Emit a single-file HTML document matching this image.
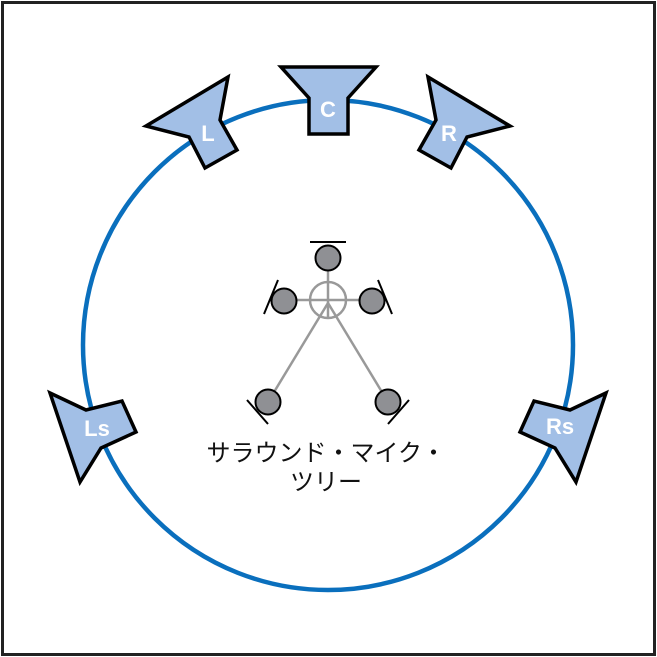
<!DOCTYPE html>
<html><head><meta charset="utf-8"><style>
html,body{margin:0;padding:0;background:#fff}
svg{display:block}
</style></head><body>
<svg width="657" height="657" viewBox="0 0 657 657" xmlns="http://www.w3.org/2000/svg">
<rect x="2.5" y="2.5" width="652" height="652" fill="#fff" stroke="#222" stroke-width="3"/>
<circle cx="328" cy="345" r="245" fill="none" stroke="#0a6fbd" stroke-width="4.5"/>
<g fill="#a2bfe6" stroke="#000" stroke-width="3.5" stroke-linejoin="miter">
<polygon points="281,67 376,67 348,98 348,134 309,134 309,98"/>
<polygon points="146,126 228,77 220,120 237,150 205,168 189,137"/>
<polygon points="510,126 428,77 436,120 419,150 451,168 467,137"/>
<polygon points="50,393 86,410 122,401 136,432 101,448 80,482"/>
<polygon points="606,393 570,410 534,401 520,432 555,448 576,482"/>
</g>
<g fill="#fff" font-family="Liberation Sans, sans-serif" font-weight="bold" font-size="22" text-anchor="middle">
<text x="328" y="117">C</text>
<text x="208" y="141">L</text>
<text x="449" y="141">R</text>
<text x="97" y="436">Ls</text>
<text x="560" y="434">Rs</text>
</g>
<g stroke="#999" stroke-width="2.5" fill="none">
<circle cx="328" cy="300" r="18"/>
<line x1="328" y1="270" x2="328" y2="318"/>
<line x1="284" y1="300" x2="372" y2="300"/>
<line x1="328" y1="303" x2="268" y2="402"/>
<line x1="328" y1="303" x2="388" y2="402"/>
</g>
<g fill="#8f9094" stroke="#000" stroke-width="2">
<circle cx="328" cy="258" r="12.5"/>
<circle cx="284" cy="301" r="12.5"/>
<circle cx="372" cy="301" r="12.5"/>
<circle cx="268" cy="402" r="12.5"/>
<circle cx="388" cy="402" r="12.5"/>
</g>
<g stroke="#000" stroke-width="2">
<line x1="310" y1="242" x2="346" y2="242"/>
<line x1="264" y1="314" x2="278" y2="280"/>
<line x1="392" y1="314" x2="378" y2="280"/>
<line x1="247" y1="400" x2="268" y2="424"/>
<line x1="409" y1="400" x2="388" y2="424"/>
</g>
<g fill="#111" font-family="Liberation Sans, Noto Sans CJK JP, sans-serif" font-size="24" text-anchor="middle">
<text x="326" y="461">サラウンド・マイク・</text>
<text x="326" y="490">ツリー</text>
</g>
</svg>
</body></html>
